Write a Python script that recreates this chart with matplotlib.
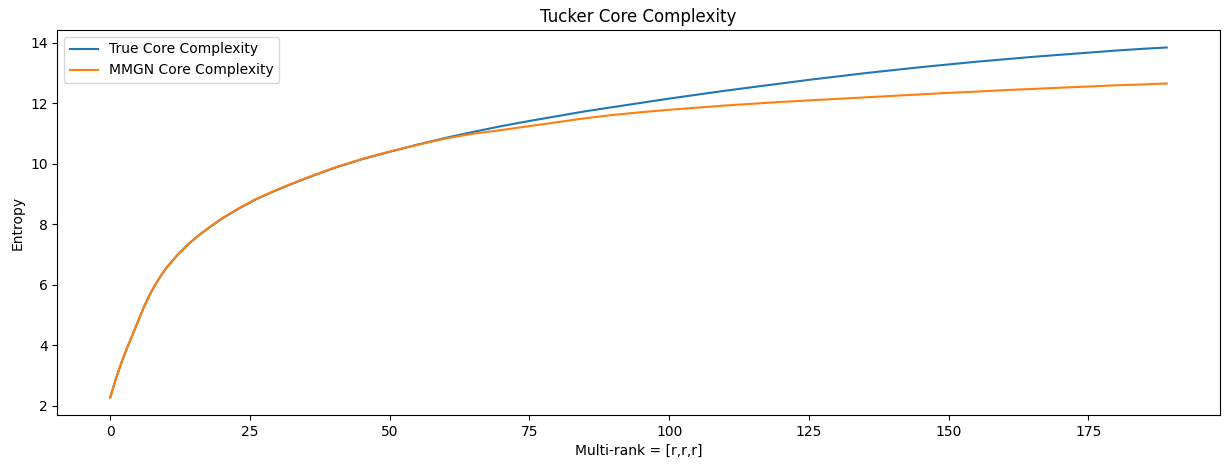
import matplotlib
matplotlib.use("Agg")
import matplotlib.pyplot as plt

# multi-rank r and entropy values
rank = [0, 1, 2, 3, 4, 5, 6, 7, 8, 9, 10, 12, 14, 16, 18, 20, 23, 26, 29, 32,
        35, 40, 45, 50, 55, 60, 65, 70, 75, 80, 85, 90, 95, 100, 105, 110,
        115, 120, 125, 130, 135, 140, 145, 150, 155, 160, 165, 170, 175, 180,
        185, 189]

true_entropy = [2.27, 2.88, 3.42, 3.90, 4.35, 4.80, 5.25, 5.65, 5.98, 6.28,
                6.55, 6.98, 7.35, 7.66, 7.93, 8.19, 8.52, 8.82, 9.07, 9.30,
                9.52, 9.86, 10.15, 10.40, 10.64, 10.86, 11.06, 11.25, 11.42,
                11.58, 11.74, 11.88, 12.02, 12.16, 12.29, 12.42, 12.54, 12.66,
                12.78, 12.89, 13.00, 13.10, 13.20, 13.29, 13.38, 13.46, 13.54,
                13.61, 13.68, 13.75, 13.81, 13.85]

mmgn_entropy = [2.27, 2.88, 3.42, 3.90, 4.35, 4.80, 5.25, 5.65, 5.98, 6.28,
                6.55, 6.98, 7.35, 7.66, 7.94, 8.20, 8.53, 8.83, 9.08, 9.31,
                9.53, 9.87, 10.16, 10.41, 10.63, 10.84, 11.00, 11.12, 11.25,
                11.38, 11.51, 11.62, 11.71, 11.79, 11.86, 11.93, 11.99, 12.05,
                12.10, 12.15, 12.20, 12.25, 12.30, 12.35, 12.39, 12.44, 12.48,
                12.52, 12.56, 12.60, 12.63, 12.66]

fig = plt.figure(figsize=(12.29, 4.68), dpi=100)
fig.subplots_adjust(left=0.0467, right=0.9923, top=0.9359, bottom=0.1132)
ax = fig.add_subplot(111)

ax.plot(rank, true_entropy, label="True Core Complexity")
ax.plot(rank, mmgn_entropy, label="MMGN Core Complexity")

ax.set_title("Tucker Core Complexity")
ax.set_xlabel("Multi-rank = [r,r,r]")
ax.set_ylabel("Entropy")
ax.legend(loc="upper left")

fig.savefig("out.png", dpi=100)
